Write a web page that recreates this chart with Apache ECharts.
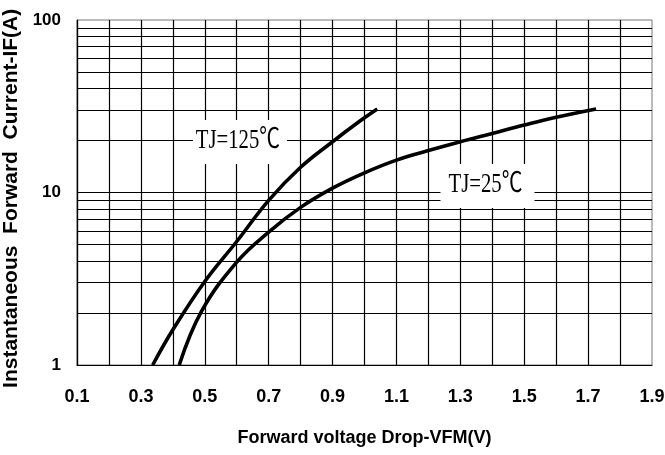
<!DOCTYPE html>
<html>
<head>
<meta charset="utf-8">
<script src="https://cdn.jsdelivr.net/npm/echarts@6/dist/echarts.min.js"></script>
<style>
  html, body { margin: 0; padding: 0; background: #fff; }
  #chart { width: 665px; height: 455px; }
</style>
</head>
<body>
<div id="chart"></div>
<script>
// ---- data ----
const curve125 = [
  [0.337, 1.0], [0.40, 1.6], [0.50, 3.05], [0.60, 5.2],
  [0.70, 9.0], [0.80, 14.0], [0.90, 19.7], [0.99, 26.3], [1.04, 30.5]
];
const curve25 = [
  [0.42, 1.0], [0.49, 2.05], [0.60, 3.95], [0.70, 5.9], [0.80, 8.2],
  [0.90, 10.6], [1.00, 13.0], [1.10, 15.4], [1.20, 17.5], [1.30, 19.7],
  [1.40, 22.0], [1.50, 24.6], [1.60, 27.3], [1.725, 30.5]
];
const xTickLabels = ['0.1', '0.3', '0.5', '0.7', '0.9', '1.1', '1.3', '1.5', '1.7', '1.9'];
const yTickLabels = ['1', '10', '100'];
const minorGridValues = [2, 3, 4, 5, 6, 7, 8, 9, 20, 30, 40, 50, 60, 70, 80, 90];
const curveLabelTexts = ['TJ=125℃', 'TJ=25℃'];
const curveLabelPositions = [[0.610, 19.6], [1.385, 10.9]];
const xAxisTitle = 'Forward voltage Drop-VFM(V)';
const yAxisTitle = 'Instantaneous  Forward  Current-IF(A)';

const sansBold = '"Liberation Sans", Arial, sans-serif';

const chart = echarts.init(document.getElementById('chart'), null, { renderer: 'canvas' });

const option = {
  backgroundColor: '#ffffff',
  animation: false,
  grid: {
    left: 77, right: 13, top: 20, bottom: 90,
    outerBoundsMode: 'none', containLabel: false,
    show: true, borderColor: '#777', borderWidth: 1, backgroundColor: 'transparent'
  },
  xAxis: {
    type: 'value', min: 0.1, max: 1.9, interval: 0.1,
    axisLine: { show: true, onZero: false, lineStyle: { color: '#000', width: 1.2 } },
    axisTick: { show: false },
    splitLine: { show: true, showMaxLine: false, lineStyle: { color: '#000', width: 1.2 } },
    axisLabel: {
      margin: 23, color: '#000', fontFamily: sansBold, fontWeight: 'bold', fontSize: 18,
      formatter: function (v) { const s = v.toFixed(1); return xTickLabels.indexOf(s) >= 0 ? s : ''; }
    },
    name: xAxisTitle, nameLocation: 'middle', nameGap: 64,
    nameTextStyle: { color: '#000', fontFamily: sansBold, fontWeight: 'bold', fontSize: 18 }
  },
  yAxis: {
    type: 'log', logBase: 10, min: 1, max: 100,
    axisLine: { show: true, lineStyle: { color: '#000', width: 1.2 } },
    axisTick: { show: false },
    splitLine: { show: true, showMaxLine: false, lineStyle: { color: '#000', width: 1.2 } },
    axisLabel: {
      margin: 16, color: '#000', fontFamily: sansBold, fontWeight: 'bold', fontSize: 17,
      formatter: function (v) { const s = String(Math.round(v)); return yTickLabels.indexOf(s) >= 0 ? s : ''; }
    },
    name: yAxisTitle + '  ', nameLocation: 'middle', nameGap: 51, nameRotate: 90,
    nameTextStyle: { color: '#000', fontFamily: sansBold, fontWeight: 'bold', fontSize: 21 }
  },
  series: [
    {
      name: 'TJ=125', type: 'line', data: curve125, smooth: 0.4, showSymbol: false,
      lineStyle: { color: '#000', width: 3.6 }, z: 3
    },
    {
      name: 'TJ=25', type: 'line', data: curve25, smooth: 0.4, showSymbol: false,
      lineStyle: { color: '#000', width: 3.6 }, z: 3,
      markLine: {
        silent: true, symbol: 'none', animation: false, z: 1,
        label: { show: false },
        lineStyle: { color: '#000', type: 'solid', width: 1.2 },
        emphasis: { disabled: true },
        data: minorGridValues.map(function (v) { return { yAxis: v }; })
      }
    },
    {
      name: 'labels', type: 'custom', z: 20, silent: true,
      data: curveLabelPositions,
      renderItem: function (params, api) {
        const p = api.coord([api.value(0), api.value(1)]);
        const txt = curveLabelTexts[params.dataIndex];
        return {
          type: 'group',
          children: [
            { type: 'rect', shape: { x: p[0] - 47, y: p[1] - 22, width: 94, height: 44 }, style: { fill: '#fff' } },
            { type: 'text', x: p[0] - 2, y: p[1] - 1, scaleX: 0.74,
              style: { text: txt, fill: '#000', font: '28px "Liberation Serif", "Noto Sans CJK SC", serif', align: 'center', verticalAlign: 'middle' } }
          ]
        };
      }
    }
  ]
};
chart.setOption(option);
</script>
</body>
</html>
